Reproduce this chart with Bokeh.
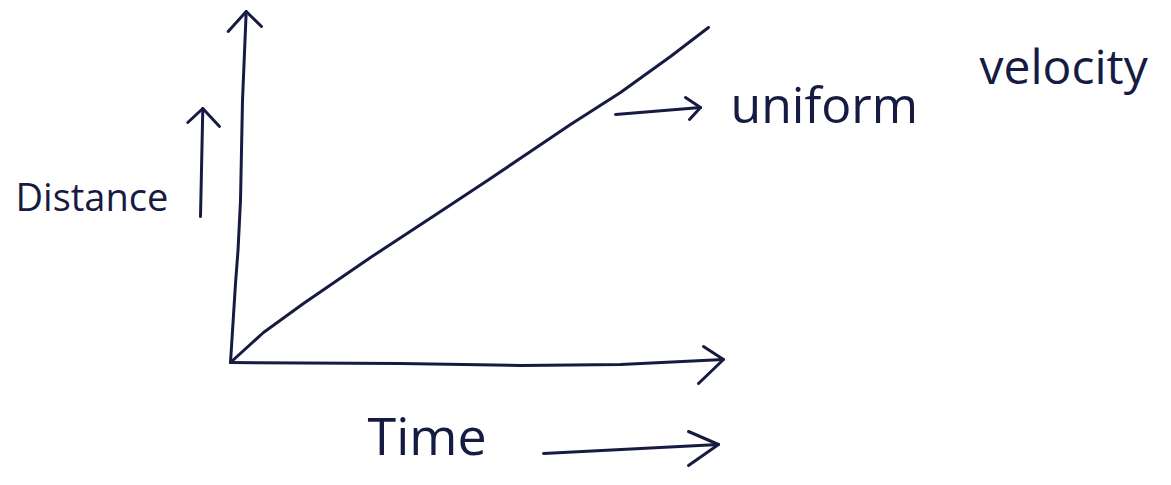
from bokeh.plotting import figure
from bokeh.models import Range1d
from bokeh.embed import file_html
from bokeh.resources import INLINE
from bokeh.core.properties import value

# Distance-time curve (time, distance) (1 unit = 10 px)
time = [0, 3.3, 7.3, 14.0, 20.7, 25.7, 30.0, 34.0, 39.0, 44.0, 47.8]
distance = [0, 3.0, 5.9, 10.5, 14.9, 18.2, 21.1, 23.8, 27.0, 30.6, 33.5]

# Hand-drawn axis strokes
y_axis_t = [0, 0.5, 0.75, 1.0, 1.2, 1.57]
y_axis_d = [0, 7.9, 11.2, 16.2, 26.2, 35.1]
x_axis_t = [0, 17, 29, 39, 49.3]
x_axis_d = [0, -0.1, -0.3, -0.2, 0.3]

# Arrows: (shaft start, tip, wing 1, wing 2)
arrows = {
    "y_axis": dict(shaft=None, tip=(1.57, 35.1), w1=(-0.23, 33.1), w2=(3.1, 33.6)),
    "x_axis": dict(shaft=None, tip=(49.3, 0.3), w1=(47.3, 1.6), w2=(46.8, -2.1)),
    "distance": dict(shaft=(-3.0, 14.6), tip=(-2.77, 25.4), w1=(-4.27, 24.0), w2=(-1.1, 23.6)),
    "time": dict(shaft=(31.3, -9.1), tip=(48.8, -8.2), w1=(45.8, -6.9), w2=(45.8, -10.3)),
    "velocity": dict(shaft=(38.5, 24.8), tip=(47.0, 25.5), w1=(45.5, 26.5), w2=(45.9, 24.3)),
}

labels = ["Distance", "uniform", "velocity", "Time"]
label_x = [-21.5, 50.0, 74.9, 13.7]
label_y = [16.7, 25.9, 29.7, -7.2]
label_size = ["38px", "50px", "48px", "52px"]

INK = "#161b42"
LW = 3

p = figure(width=1155, height=469, x_range=Range1d(-23.0, 92.5), y_range=Range1d(-10.7, 36.2),
           toolbar_location=None, output_backend="svg",
           x_axis_location=None, y_axis_location=None, min_border=0)
p.grid.visible = False
p.outline_line_color = None
p.background_fill_color = "white"
p.border_fill_color = "white"

# axes
p.line(y_axis_t, y_axis_d, line_color=INK, line_width=LW, line_cap="round", line_join="round")
p.line(x_axis_t, x_axis_d, line_color=INK, line_width=LW, line_cap="round", line_join="round")

# curve
p.line(time, distance, line_color=INK, line_width=LW, line_cap="round", line_join="round")

# arrows
for a in arrows.values():
    if a["shaft"] is not None:
        p.line([a["shaft"][0], a["tip"][0]], [a["shaft"][1], a["tip"][1]],
               line_color=INK, line_width=LW, line_cap="round")
    p.line([a["w1"][0], a["tip"][0], a["w2"][0]], [a["w1"][1], a["tip"][1], a["w2"][1]],
           line_color=INK, line_width=LW, line_cap="round", line_join="round")

for txt, x, y, s in zip(labels, label_x, label_y, label_size):
    p.text(x=[x], y=[y], text=[txt], text_font=value("Open Sans"), text_font_size=s,
           text_color=INK, text_align="left", text_baseline="alphabetic")

open("out.html", "w").write(file_html(p, INLINE))
